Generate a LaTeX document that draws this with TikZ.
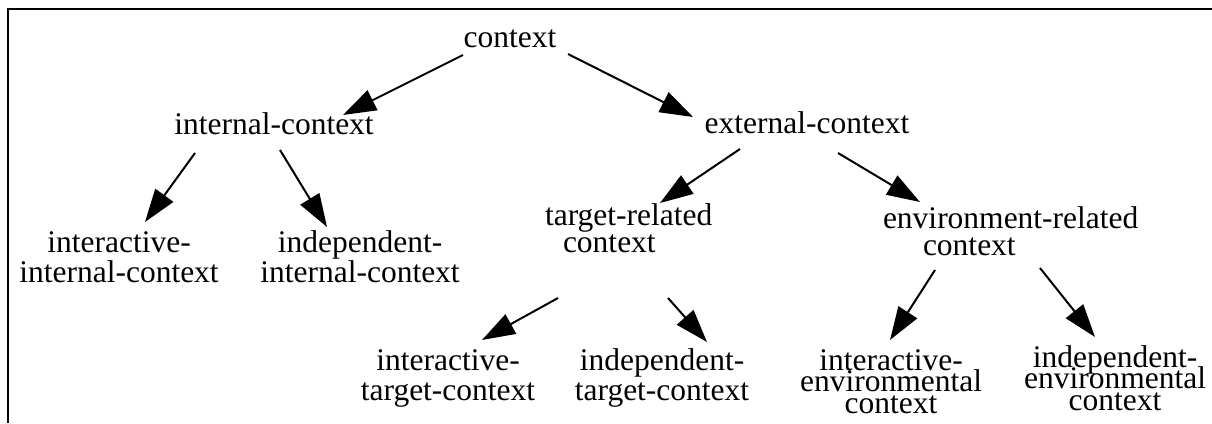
\documentclass[tikz,border=0pt]{standalone}
\usepackage{fontspec}
\setmainfont{Liberation Serif}
\usetikzlibrary{arrows.meta,calc}
\begin{document}
\begin{tikzpicture}[x=1pt,y=-1pt,
  lbl/.style={inner sep=0pt, outer sep=0pt, align=center, anchor=base,
    font={\fontsize{31.5}{30}\selectfont\lineskiplimit=-60pt\lineskip=0pt}},
  lbltwo/.style={lbl, font={\fontsize{31.5}{27}\selectfont\lineskiplimit=-60pt\lineskip=0pt}},
  lblthree/.style={lbl, font={\fontsize{31.5}{21.5}\selectfont\lineskiplimit=-60pt\lineskip=0pt}},
  arr/.style={line width=2pt, -{Triangle[length=33pt,width=22pt]}},
  frame/.style={line width=1.6pt}]
\useasboundingbox (0,0) rectangle (1212,423);
\draw[frame] (8,423) -- (8,9) -- (1212,9);

% base anchor = baseline of the last line
\node[lbl] (ctx) at (510,47) {context};
\node[lbl] (int) at (274,134) {internal-context};
\node[lbl] (ext) at (807,133) {external-context};
\node[lbl] (iic) at (119,282) {interactive-\\internal-context};
\node[lbl] (dic) at (360,282) {independent-\\internal-context};
\node[lbltwo, align=left, anchor=base west] (trc) at (545,252) {target-related\\\hspace*{18pt}context};
\node[lbltwo, align=left, anchor=base west] (erc) at (883,255) {environment-related\\\hspace*{40pt}context};
\node[lbl] (itc) at (448,400) {interactive-\\target-context};
\node[lbl] (dtc) at (662,400) {independent-\\target-context};
\node[lblthree] (iec) at (891,413) {interactive-\\environmental\\context};
\node[lblthree] (dec) at (1115,410) {independent-\\environmental\\context};

\draw[arr] ($(ctx.base)+(-47,8)$) -- ($(int.base)+(69,-19)$);
\draw[arr] ($(ctx.base)+(58,7)$) -- ($(ext.base)+(-114,-16)$);
\draw[arr] ($(int.base)+(-79,19)$) -- ($(iic.base)+(26,-60)$);
\draw[arr] ($(int.base)+(6,16)$) -- ($(dic.base)+(-33,-55)$);
\draw[arr] ($(ext.base)+(-67,16)$) -- ($(trc.base west)+(115,-49)$);
\draw[arr] ($(ext.base)+(31,20)$) -- ($(erc.base west)+(37,-53)$);
\draw[arr] ($(trc.base west)+(13,46)$) -- ($(itc.base)+(34,-60)$);
\draw[arr] ($(trc.base west)+(123,46)$) -- ($(dtc.base)+(45,-58)$);
\draw[arr] ($(erc.base west)+(52,15)$) -- ($(iec.base)+(-1,-73)$);
\draw[arr] ($(erc.base west)+(157,13)$) -- ($(dec.base)+(-20,-73)$);
\end{tikzpicture}
\end{document}
